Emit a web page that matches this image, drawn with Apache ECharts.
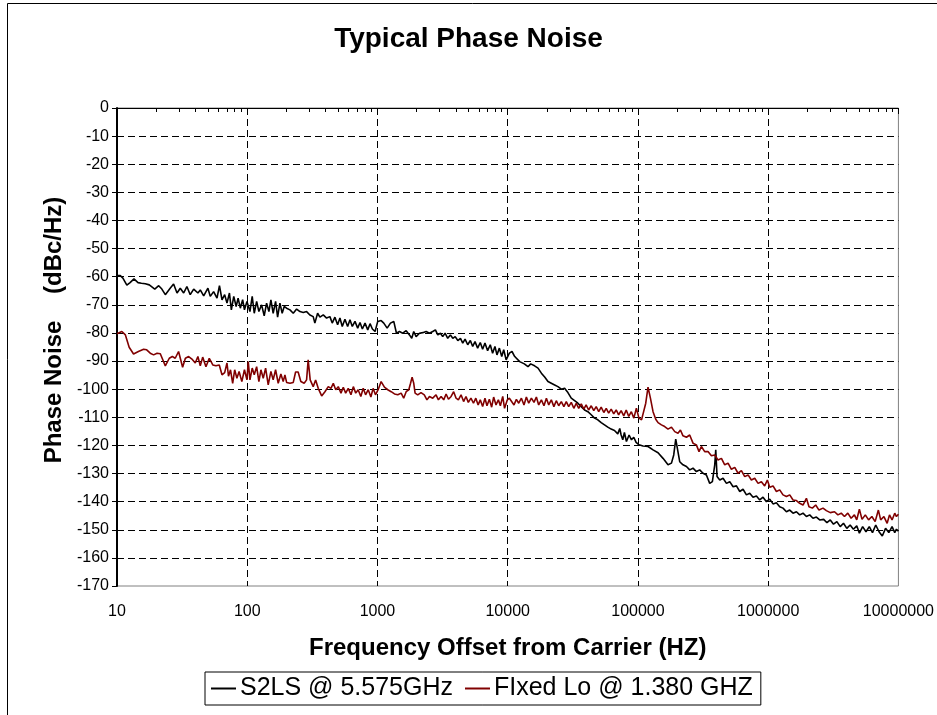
<!DOCTYPE html>
<html>
<head>
<meta charset="utf-8">
<title>Typical Phase Noise</title>
<script src="https://cdn.jsdelivr.net/npm/echarts@6/dist/echarts.min.js"></script>
<style>
    html, body { margin: 0; padding: 0; background: #ffffff; }
    #main { width: 937px; height: 715px; }
</style>
</head>
<body>
<div id="main"></div>
<script>
// S2LS @ 5.575GHz (black trace), offset in Hz / dBc/Hz
var s2lsFreq = [
    10, 10.6, 11.1, 11.9, 12.6, 13.5, 14.5, 15.4, 16.5, 17.7, 19.5, 20.9, 22.1, 23.5, 25.6, 27.2,
    28.9, 30.6, 32.5, 34.4, 36.5, 38.8, 41.8, 43.6, 46.3, 49.9, 52, 55.2, 58.6, 61.2, 64, 67.1,
    69.9, 73, 75.5, 78.8, 82.2, 85.1, 88.5, 92.2, 95.2, 99.5,
    104.9, 109.2, 113.2, 118.1, 122.9, 128.9, 135, 140.8, 146.7, 152, 158.2, 165.1, 171.1, 178.2,
    185.5, 192.3, 200.6, 212.9, 225.6, 239.4, 254, 269.2, 285.6, 302.8, 321, 330.6, 347, 361.6,
    383.5, 406.8, 431.3, 449.4, 471.2, 494.3, 514.9, 536.6, 562.6, 590.1, 614.9, 640.9, 672,
    704.8, 734.4, 765.4, 802.6, 841.8, 877.2, 914.2, 958.7,
    1005, 1067, 1118, 1187, 1258, 1334, 1399, 1475, 1564, 1661, 1760, 1833, 1899, 1980, 2101,
    2226, 2364, 2507, 2657, 2786, 2904, 3045, 3169, 3306, 3463, 3630, 3787, 3951, 4140, 4338,
    4517, 4706, 4931, 5166, 5385, 5611, 5877, 6157, 6419, 6690, 7010, 7347, 7657, 7980, 8270,
    8630, 9000, 9320, 9730,
    10300, 10790, 11320, 12360, 13420, 14310, 15010, 16080, 17090, 18140, 19220, 20380, 21620,
    22930, 24310, 25790, 27350, 28990, 30760, 32620, 34590, 36700, 38920, 41260, 43780, 46420,
    49210, 52220, 55370, 58700, 62290, 66050, 70020, 72500, 74290, 76460, 78730, 81600, 85500,
    89200, 92900, 96800,
    102000, 109400, 119500, 130600, 142700, 155800, 170200, 180900, 188300, 195100, 202100,
    209300, 221800, 235700, 249700, 264700, 281100, 298000, 315900, 335500, 355700, 372900,
    388800, 395800, 405000, 424900, 450400, 478300, 507000, 537500, 570700, 605000, 641300,
    681000, 721800, 765200, 812500, 861300, 913100, 969600,
    1027800, 1089500, 1157000, 1226000, 1300000, 1381000, 1464000, 1552000, 1648000, 1746000,
    1851000, 1966000, 2084000, 2209000, 2346000, 2487000, 2668000, 2826000, 2998000, 3175000,
    3369000, 3575000, 3788000, 4016000, 4259000, 4515000, 4786000, 5015000, 5313000, 5638000,
    5975000, 6323000, 6700000, 7100000, 7519000, 7968000, 8440000, 8939000, 9372000, 9657000,
    10000000
];
var s2lsDbc = [
    -59.6, -59.6, -60.5, -63.0, -62.1, -60.8, -62.1, -62.3, -62.5, -62.9, -64.4, -63.2, -64.4, -66.4, -64.1, -62.6,
    -65.8, -64.1, -65.8, -63.5, -66.4, -64.4, -65.8, -64.7, -66.8, -64.1, -67.0, -65.3, -67.6, -63.2, -68.2, -66.4,
    -69.4, -65.8, -71.8, -67.0, -70.6, -67.6, -71.2, -68.2, -71.8, -68.8,
    -72.4, -67.0, -73.0, -68.8, -72.4, -70.0, -73.9, -69.4, -72.4, -68.2, -73.0, -68.8, -74.4, -69.4,
    -73.0, -70.6, -71.2, -71.8, -73.0, -71.5, -72.4, -72.7, -72.4, -73.6, -74.2, -76.5, -73.0, -74.4,
    -73.6, -74.7, -74.2, -76.5, -74.4, -77.1, -74.7, -77.7, -75.1, -77.7, -75.3, -77.7, -75.9,
    -78.3, -76.3, -78.6, -76.5, -78.9, -76.7, -78.6, -79.5,
    -75.9, -75.6, -76.5, -78.3, -76.5, -75.9, -80.1, -79.5, -80.1, -79.2, -80.7, -81.9, -79.5, -81.3, -80.1,
    -79.9, -79.5, -80.1, -79.5, -78.9, -80.7, -80.1, -81.3, -80.1, -81.9, -80.7, -81.9, -81.3, -82.7, -81.9,
    -83.6, -82.2, -84.2, -82.7, -84.8, -83.1, -85.4, -83.4, -85.8, -83.6, -86.3, -84.2, -87.2, -84.8, -87.8,
    -85.4, -88.4, -86.0, -89.6,
    -87.2, -86.6, -88.4, -90.2, -91.0, -92.0, -91.0, -91.7, -92.5, -94.3, -95.7, -97.3, -97.9,
    -98.5, -99.1, -100.0, -99.7, -101.2, -103.2, -104.1, -105.0, -106.2, -107.4, -108.0, -109.1, -110.3,
    -110.9, -111.9, -112.7, -113.5, -114.2, -114.7, -115.9, -114.0, -116.3, -118.0, -115.4, -118.6, -116.3,
    -118.0, -117.1, -118.9,
    -119.8, -120.2, -120.4, -121.6, -122.6, -124.6, -126.9, -126.3, -123.4, -117.8, -118.0,
    -125.8, -126.9, -127.5, -128.7, -128.1, -129.3, -128.7, -129.9, -130.5, -133.5, -132.9,
    -126.9, -121.6, -131.1, -132.3, -131.7, -133.5, -132.9, -134.7, -134.4, -136.4, -135.6,
    -137.6, -137.0, -138.4, -138.0, -139.4, -138.4, -140.0,
    -139.1, -140.8, -140.4, -141.8, -142.3, -143.6, -143.0, -144.1, -143.6, -144.7,
    -144.1, -145.3, -144.7, -145.9, -145.5, -146.5, -146.3, -147.5, -146.5, -148.0,
    -147.1, -148.9, -147.7, -149.5, -148.3, -149.8, -148.6, -151.2, -148.9, -150.7,
    -148.9, -151.0, -148.3, -150.7, -152.2, -149.5, -151.0, -148.9, -151.0, -149.8,
    -150.5
];

// FIxed Lo @ 1.380 GHZ (dark red trace)
var fixedLoFreq = [
    10, 10.9, 11.6, 12.4, 13.4, 14.6, 16, 16.9, 18, 19.1, 20.3, 21.5, 23.5, 25.2, 26.6, 28,
    29.7, 31.9, 33.5, 35.5, 37.6, 39.9, 41.8, 43.6, 45.5, 48.2, 51.1, 54.4, 57.5, 61, 64, 67.1,
    69.9, 71.8, 74.4, 77.3, 80.1, 83.3, 86.6, 90.9, 95.2, 99.5,
    101.8, 104.9, 109.2, 113.2, 118.1, 122.9, 127.4, 132.7, 138.4, 144.9, 152, 158.2, 165.1, 172.9,
    181.3, 188.9, 194.7, 200.6, 212.9, 225.6, 235.2, 246, 258, 273.6, 285.6, 293.7, 304.4, 321,
    335, 350.9, 372.9, 395.1, 418.9, 439.5, 458, 478.1, 500.1, 524.6, 546.4, 570, 596.6, 625.8,
    652.6, 680.8, 710.8, 745, 777.2, 810.6, 849.4, 890.1, 925.8, 965.3,
    1012, 1067, 1131, 1200, 1274, 1351, 1432, 1520, 1590, 1661, 1740, 1795, 1845, 1899, 1945,
    2037, 2160, 2288, 2398, 2507, 2657, 2817, 2937, 3081, 3226, 3365, 3508, 3677, 3847, 4014,
    4181, 4384, 4586, 4783, 4985, 5220, 5460, 5690, 5930, 6157, 6419, 6690, 6930, 7230, 7530,
    7800, 8130, 8480, 8780, 9160, 9460, 9940,
    10300, 10670, 11180, 11660, 12150, 12740, 13340, 13910, 14500, 15200, 15920, 16600, 17300,
    18140, 18990, 19820, 20660, 21620, 22630, 23610, 24640, 25800, 27000, 28170, 29400, 30760,
    32200, 33600, 35100, 36700, 38400, 40000, 41800, 43800, 45800, 47800, 50000, 52200, 54700,
    57100, 59600, 62300, 65200, 68100, 71100, 74300, 77800, 81300, 85000, 89000, 93000, 97300,
    101800, 106600, 109400, 114800, 119500, 124700, 130600, 137000, 142700, 151500, 160500,
    170200, 180900, 191700, 203000, 212000, 221800, 235700, 249700, 264700, 281100, 294500,
    307000, 325600, 345000, 366500, 388800, 412000, 437600, 463900, 492000, 522000, 553700,
    587000, 623000, 660600, 701000, 743000, 788300, 836500, 887000, 940000, 986000,
    1027800, 1089500, 1157000, 1226000, 1300000, 1381000, 1464000, 1552000, 1648000, 1746000,
    1851000, 1966000, 2058000, 2185000, 2317000, 2456000, 2637000, 2797000, 2998000, 3232000,
    3430000, 3638000, 3855000, 4087000, 4334000, 4594000, 4786000, 5015000, 5257000, 5569000,
    5902000, 6257000, 6627000, 7017000, 7310000, 7740000, 8196000, 8543000, 8939000, 9372000,
    9657000, 10000000
];
var fixedLoDbc = [
    -80.3, -79.5, -80.7, -85.1, -87.5, -86.6, -85.8, -86.0, -87.2, -87.8, -87.2, -87.4, -91.7, -89.0, -88.4, -89.0,
    -86.6, -92.2, -89.0, -88.4, -89.3, -90.7, -88.4, -91.7, -88.6, -92.0, -89.0, -91.4, -91.7, -91.4, -94.9, -94.1,
    -90.7, -95.4, -93.1, -97.9, -93.1, -96.1, -93.7, -97.3, -93.1, -96.7,
    -90.2, -96.7, -92.5, -94.9, -92.0, -97.3, -93.1, -96.1, -92.5, -98.5, -93.7, -96.7, -93.1, -97.9,
    -94.6, -97.3, -94.9, -97.6, -97.9, -97.6, -93.9, -93.9, -97.3, -97.9, -96.7, -89.6, -96.7, -99.1,
    -96.7, -99.7, -102.4, -100.9, -99.1, -99.7, -97.9, -100.2, -99.1, -101.4, -99.3, -101.4, -99.7, -102.0,
    -99.1, -101.4, -100.2, -102.6, -99.7, -102.0, -100.2, -102.8, -99.7, -102.0,
    -100.2, -97.3, -99.3, -100.2, -100.9, -101.7, -102.0, -101.4, -103.2, -100.9, -100.2, -97.9, -95.7, -97.9, -101.4,
    -102.0, -101.2, -102.0, -103.8, -102.6, -103.2, -102.0, -103.8, -102.6, -103.8, -101.7, -103.6, -102.6, -100.9, -103.2,
    -103.8, -102.0, -104.4, -102.6, -104.7, -103.2, -105.0, -103.2, -105.6, -103.8, -106.2, -103.2, -105.9, -103.6, -106.4,
    -102.8, -105.6, -103.8, -105.9, -102.6, -106.8, -103.8,
    -103.2, -103.8, -105.6, -103.6, -105.0, -103.2, -105.6, -102.8, -105.0, -103.2, -104.7, -102.8, -105.6,
    -103.8, -105.9, -103.2, -105.6, -103.8, -106.2, -104.1, -105.9, -104.4, -106.2, -104.4, -106.2, -104.7,
    -106.8, -105.0, -106.8, -105.2, -107.1, -105.6, -107.4, -105.9, -107.6, -106.2, -108.0, -106.4, -108.3,
    -106.8, -108.5, -107.1, -108.8, -107.4, -109.1, -107.6, -109.5, -107.4, -109.7, -108.0, -110.3, -106.8,
    -110.3, -110.9, -110.3, -105.0, -99.3, -103.2, -108.0, -110.7, -111.9, -112.7, -113.3,
    -114.2, -113.5, -115.1, -115.7, -114.5, -116.6, -117.1, -116.3, -119.2, -119.8, -122.2,
    -120.4, -122.2, -122.2, -123.7, -123.4, -125.2, -124.6, -126.9, -126.3, -128.5, -127.8,
    -129.9, -129.0, -131.1, -130.5, -132.3, -131.7, -133.5, -132.9, -134.4, -132.3,
    -134.9, -134.4, -136.4, -135.8, -137.6, -138.2, -137.6, -139.4, -139.6, -140.6,
    -141.2, -138.8, -141.8, -142.3, -141.2, -143.0, -142.3, -143.2, -143.9, -143.6,
    -144.7, -144.1, -145.3, -144.1, -145.9, -144.7, -146.5, -142.7, -146.3, -144.7,
    -146.5, -145.3, -147.1, -143.0, -146.5, -145.3, -147.7, -144.7, -146.5, -144.1,
    -145.3, -144.5
];

var legendNames = ['S2LS @ 5.575GHz', 'FIxed Lo @ 1.380 GHZ'];

var font = 'Arial, "Liberation Sans", sans-serif';

/**
 * 把频率和数值拼成 [x, y]
 */
function pairs(xs, ys) {
    var out = [];
    for (var i = 0; i < xs.length; i++) {
        out.push([xs[i], ys[i]]);
    }
    return out;
}

var dashed = {
    show: true,
    showMinLine: false,
    showMaxLine: false,
    lineStyle: {color: '#000000', width: 1, type: [7, 4]}
};

var myChart = echarts.init(document.getElementById('main'));
var option = {
    animation: false,
    backgroundColor: '#ffffff',
    textStyle: {fontFamily: font},
    title: {
        text: 'Typical Phase Noise',
        left: 'center',
        top: 20,
        textStyle: {fontSize: 28, fontWeight: 'bold', color: '#000000', fontFamily: font}
    },
    graphic: [
        {
            type: 'rect',
            silent: true,
            shape: {x: 7.5, y: 3.5, width: 1000, height: 1000},
            style: {fill: 'none', stroke: '#000000', lineWidth: 1}
        }
    ],
    legend: {
        left: 205,
        top: 672,
        data: legendNames,
        icon: 'rect',
        itemWidth: 25,
        itemHeight: 2,
        itemGap: 12,
        padding: [4, 8, 4, 6],
        borderColor: '#000000',
        borderWidth: 1,
        backgroundColor: '#ffffff',
        textStyle: {fontSize: 25, color: '#000000', fontFamily: font, padding: [0, 0, 0, -1]}
    },
    grid: {
        left: 117,
        top: 108,
        width: 782,
        height: 478,
        show: true,
        borderColor: '#808080',
        borderWidth: 1
    },
    xAxis: [
        {
            type: 'log',
            logBase: 10,
            min: 10,
            max: 10000000,
            position: 'top',
            axisLine: {onZero: false, lineStyle: {color: '#000000', width: 1}},
            axisTick: {inside: true, length: 6, lineStyle: {color: '#000000'}},
            minorTick: {show: true, splitNumber: 9, length: 4, lineStyle: {color: '#000000'}},
            axisLabel: {show: false},
            splitLine: dashed
        },
        {
            type: 'log',
            logBase: 10,
            min: 10,
            max: 10000000,
            position: 'bottom',
            axisLine: {show: false, onZero: false},
            axisTick: {show: false},
            splitLine: {show: false},
            axisLabel: {
                margin: 18,
                fontSize: 16,
                color: '#000000',
                fontFamily: font,
                formatter: function (v) {
                    return String(Math.round(v));
                }
            },
            name: 'Frequency Offset from Carrier (HZ)',
            nameLocation: 'middle',
            nameGap: 50,
            nameTextStyle: {fontSize: 24, fontWeight: 'bold', color: '#000000', fontFamily: font}
        }
    ],
    yAxis: {
        type: 'value',
        min: -170,
        max: 0,
        interval: 10,
        axisLine: {show: true, onZero: false, lineStyle: {color: '#000000', width: 2}},
        axisTick: {show: true, length: 5, lineStyle: {color: '#000000'}},
        axisLabel: {margin: 8, fontSize: 16, color: '#000000', fontFamily: font},
        splitLine: dashed,
        name: 'Phase Noise    (dBc/Hz)',
        nameLocation: 'middle',
        nameRotate: 90,
        nameGap: 49,
        nameTextStyle: {
            fontSize: 24,
            fontWeight: 'bold',
            color: '#000000',
            fontFamily: font,
            padding: [0, 0, 0, 34]
        }
    },
    series: [
        {
            name: legendNames[0],
            type: 'line',
            xAxisIndex: 0,
            data: pairs(s2lsFreq, s2lsDbc),
            symbol: 'none',
            lineStyle: {color: '#000000', width: 1.6},
            itemStyle: {color: '#000000'}
        },
        {
            name: legendNames[1],
            type: 'line',
            xAxisIndex: 0,
            data: pairs(fixedLoFreq, fixedLoDbc),
            symbol: 'none',
            lineStyle: {color: '#800000', width: 1.6},
            itemStyle: {color: '#800000'}
        }
    ]
};
myChart.setOption(option);
</script>
</body>
</html>
